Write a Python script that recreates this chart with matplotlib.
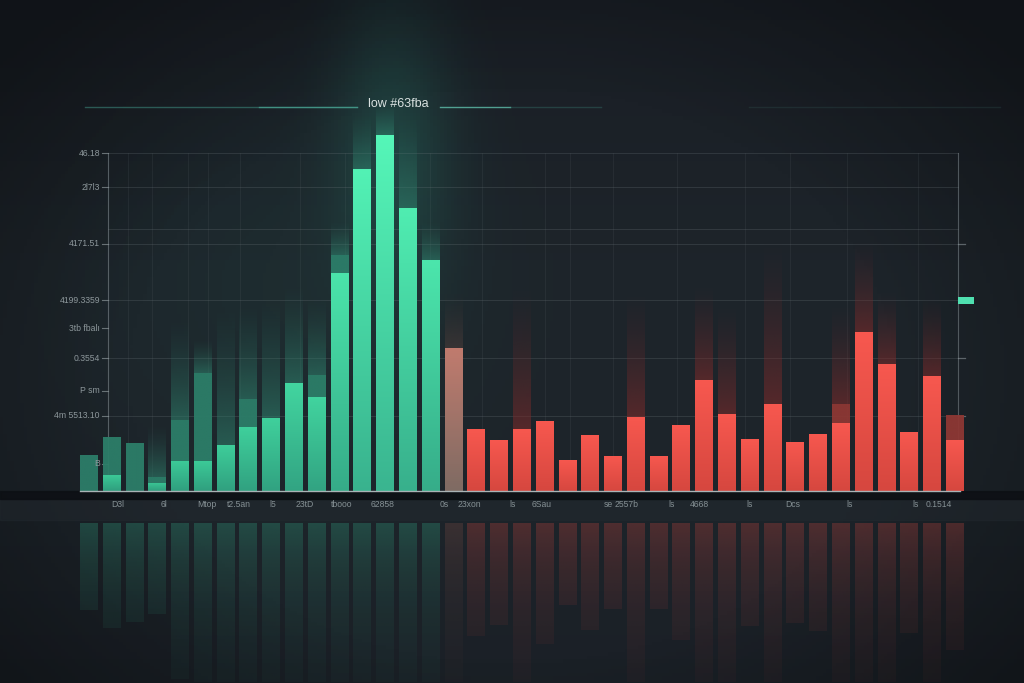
import numpy as np
import matplotlib
matplotlib.use("Agg")
import matplotlib.pyplot as plt
from matplotlib.colors import to_rgb

# bar values (0 = baseline, 100 = top gridline)
bright_vals = [0, 4.7, 0, 2.4, 8.9, 8.9, 13.6, 18.9, 21.6, 32.0,
               27.8, 64.5, 95.3, 105.3, 83.7, 68.3, 42.3, 18.3, 15.1, 18.3,
               20.7, 9.2, 16.6, 10.4, 21.9, 10.4, 19.5, 32.8, 22.8, 15.4,
               25.7, 14.5, 16.9, 20.1, 47.0, 37.6, 17.5, 34.0, 15.1]
dim_vals = [10.7, 16.0, 14.2, 4.1, 21.0, 34.9, 0, 27.2, 0, 0,
            34.3, 69.8, 0, 0, 0, 0, 0, 0, 0, 0,
            0, 0, 0, 0, 0, 0, 0, 0, 0, 0,
            0, 0, 0, 25.7, 0, 0, 0, 0, 22.5]
glow_vals = [0, 0, 0, 20, 52, 45, 56, 56, 58, 62,
             58, 80, 112, 115, 112, 80, 60, 0, 0, 62,
             0, 0, 0, 0, 60, 0, 0, 62, 56, 0,
             75, 0, 0, 56, 75, 60, 0, 58, 0]
marker_val = 56.4

x_tick_pos = [1.3, 3.3, 5.2, 6.6, 8.1, 9.5, 11.1, 12.9, 15.6, 16.7, 18.6,
              19.9, 22.8, 23.6, 25.6, 26.8, 29.0, 30.9, 33.4, 36.3, 37.3]
x_tick_labels = ["D3l", "6l", "Mtop", "t2.5an", "l5", "23tD", "tbooo", "62858",
                 "0s", "23xon", "ls", "6Sau", "se", "2557b", "ls", "4668",
                 "ls", "Dcs", "ls", "ls", "0.1514"]
y_tick_vals = [100, 89.9, 73.1, 56.5, 48.2, 39.3, 29.6, 22.2, 8.0]
y_tick_labels = ["46.18", "2l7l3", "4171.51", "4199.3359", "3tb fbalı",
                 "0.3554", "P sm", "4m 5513.10", "B"]
grid_y = [100, 89.9, 77.6, 73.1, 56.5, 39.3, 22.2]
grid_x = [0.86, 1.73, 2.78, 4.37, 5.24, 6.65, 9.28, 11.25, 14.98, 17.27,
          20.03, 21.12, 23.01, 25.82, 28.81, 30.78, 33.28, 36.40]
title = "low #63fba"

BG = "#1b2128"
XL = (-3.883, 41.05)
YL = (-56.8, 145.27)

fig = plt.figure(figsize=(10.24, 6.83), dpi=100, facecolor=BG)
ax = fig.add_axes([0, 0, 1, 1])
ax.axis("off")


def rgba_column(c0, c1, a):
    n = len(a)
    t = np.linspace(0, 1, n)[:, None]
    c0 = np.array(to_rgb(c0))
    c1 = np.array(to_rgb(c1))
    img = np.zeros((n, 1, 4))
    img[:, 0, :3] = c0 + (c1 - c0) * t
    img[:, 0, 3] = a
    return img


def paint(patch, c0, c1, a, z):
    # fill a bar patch with a vertical gradient (row 0 = bar start)
    x0, y0 = patch.get_x(), patch.get_y()
    w, h = patch.get_width(), patch.get_height()
    if abs(h) < 1e-6:
        return
    img = rgba_column(c0, c1, a)
    im = ax.imshow(img, extent=[x0, x0 + w, y0, y0 + h], origin="lower",
                   aspect="auto", interpolation="bilinear", zorder=z)
    im.set_clip_path(patch)


# background: vertical gradient + vignette
yy, xx = np.mgrid[0:1:200j, 0:1:300j]
bg = np.zeros((200, 300, 4))
top = np.array(to_rgb("#181c23"))
mid = np.array(to_rgb("#1e252b"))
w = np.exp(-((yy - 0.45) / 0.5) ** 2)[..., None]
bg[..., :3] = top + (mid - top) * w
bg[..., 3] = 1
ax.imshow(bg, extent=[*XL, *YL], origin="lower", aspect="auto", zorder=0)
vig = np.zeros((200, 300, 4))
r = np.sqrt(((xx - 0.5) / 0.62) ** 2 + ((yy - 0.45) / 0.7) ** 2)
vig[..., 3] = np.clip((r - 0.6) * 0.8, 0, 0.35)
ax.imshow(vig, extent=[*XL, *YL], origin="lower", aspect="auto", zorder=0.2)

# teal haze around the peak
gx, gy = np.meshgrid(np.linspace(*XL, 300), np.linspace(*YL, 200))
haze = np.zeros((200, 300, 4))
haze[..., :3] = to_rgb("#2fae90")
haze[..., 3] = 0.22 * np.exp(-((gx - 13.3) / 2.6) ** 2 - ((gy - 100) / 40) ** 2)
haze[..., 3] += 0.06 * np.exp(-((gx - 9) / 8) ** 2 - ((gy - 60) / 50) ** 2)
ax.imshow(haze, extent=[*XL, *YL], origin="lower", aspect="auto", zorder=0.3)

# grid
gcol = "#6d777c"
for gy_ in grid_y:
    ax.plot([0.86, 38.15], [gy_, gy_], color=gcol, lw=0.6, alpha=0.3, zorder=1)
for gx_ in grid_x:
    ax.plot([gx_, gx_], [0, 100], color=gcol, lw=0.5, alpha=0.18, zorder=1)
ax.plot([0.86, 0.86], [0, 100], color="#7f898e", lw=0.8, alpha=0.55, zorder=1)
ax.plot([38.15, 38.15], [0, 100], color="#7f898e", lw=0.8, alpha=0.55, zorder=1)
for yv in [73.1, 39.3, 22.2]:
    ax.plot([38.15, 38.45], [yv, yv], color="#8a9498", lw=0.9, alpha=0.6, zorder=1)

# bars
n = len(bright_vals)
x = np.arange(n)
W = 0.75
bright = np.array(bright_vals, float)
dim = np.array(dim_vals, float)
glow = np.array(glow_vals, float)
kind = np.array(["g"] * 16 + ["s"] + ["r"] * (n - 17))
solid_top = np.maximum(bright, dim)

glow_bars = ax.bar(x, np.maximum(glow - solid_top, 0), bottom=solid_top, width=W,
                   color="none", linewidth=0, zorder=1.5)
dim_bars = ax.bar(x, np.maximum(dim - bright, 0), bottom=bright, width=W,
                  color="none", linewidth=0, zorder=2)
main_bars = ax.bar(x, bright, width=W, color="none", linewidth=0, zorder=3)
refl_h = np.minimum(np.maximum.reduce([bright, dim, glow * 0.6]) + 15, 47)
refl_bars = ax.bar(x, -refl_h, bottom=-9.5, width=W, color="none",
                   linewidth=0, zorder=1.5)

m = 64
ramp = np.linspace(0, 1, m)
for i in range(n):
    k = kind[i]
    f = min(bright[i] / 105.0, 1)
    if k == "g":
        ctop = np.array(to_rgb("#3ac795")) * (1 - f) + np.array(to_rgb("#55f6b8")) * f
        cbot = np.array(to_rgb("#2f9d7d")) * (1 - f) + np.array(to_rgb("#3ab590")) * f
        cdim, cglow, crefl = "#2c7e69", "#2e7d6a", "#2e8a71"
    elif k == "s":
        ctop, cbot = "#c07b6e", "#7f6b63"
        cdim, cglow, crefl = "#7d5d55", "#4a3c3a", "#6b4540"
    else:
        ctop, cbot = "#f7584f", "#d6473f"
        cdim, cglow, crefl = "#8e3834", "#7a2b2b", "#a23e3a"
    paint(main_bars[i], cbot, ctop, np.ones(m), 3)
    paint(dim_bars[i], cdim, cdim, np.full(m, 0.95), 2)
    paint(glow_bars[i], cglow, cglow, 0.6 * (1 - ramp) ** 1.4, 1.5)
    depth = ramp * refl_h[i]
    paint(refl_bars[i], crefl, crefl, 0.38 * np.exp(-depth / 24), 1.5)

# right marker
ax.barh(marker_val, 0.7, height=2.0, left=38.15, color="#4fe0b0", zorder=3)

# baseline and label band
ax.axhspan(-8.5, 0, color="#232a30", alpha=0.45, zorder=1.2)
ax.axhspan(-2.4, 0, color="#0d1014", alpha=0.9, zorder=1.3)
ax.plot([-0.37, 38.24], [0, 0], color="#a9b3b5", lw=1.0, zorder=4)
for xp, lab in zip(x_tick_pos, x_tick_labels):
    ax.text(xp, -4.0, lab, color="#859094", fontsize=6.2, ha="center",
            va="center", family="Liberation Sans", zorder=4)

# left tick labels
for yv, lab in zip(y_tick_vals, y_tick_labels):
    ax.plot([0.6, 0.86], [yv, yv], color="#8a9498", lw=0.8, alpha=0.7, zorder=1)
    ax.text(0.5, yv, lab, color="#8d979b", fontsize=6.2, ha="right",
            va="center", family="Liberation Sans", zorder=4)

# title with its rule line
ax.plot([-0.15, 11.78], [113.6, 113.6], color="#3e8f82", lw=1.0, alpha=0.55, zorder=1)
ax.plot([7.5, 11.78], [113.6, 113.6], color="#4fb39f", lw=1.0, alpha=0.6, zorder=1)
ax.plot([15.42, 18.5], [113.6, 113.6], color="#5fc0ac", lw=1.0, alpha=0.8, zorder=1)
ax.plot([18.5, 22.5], [113.6, 113.6], color="#3e8f82", lw=1.0, alpha=0.3, zorder=1)
ax.plot([29.0, 40.0], [113.6, 113.6], color="#3e6f6a", lw=1.0, alpha=0.2, zorder=1)
ax.text(13.58, 114.6, title, color="#d9e1e0", fontsize=9, ha="center",
        va="center", family="Liberation Sans", zorder=4)

ax.set_xlim(*XL)
ax.set_ylim(*YL)
fig.savefig("out.png", dpi=100, facecolor=BG)
